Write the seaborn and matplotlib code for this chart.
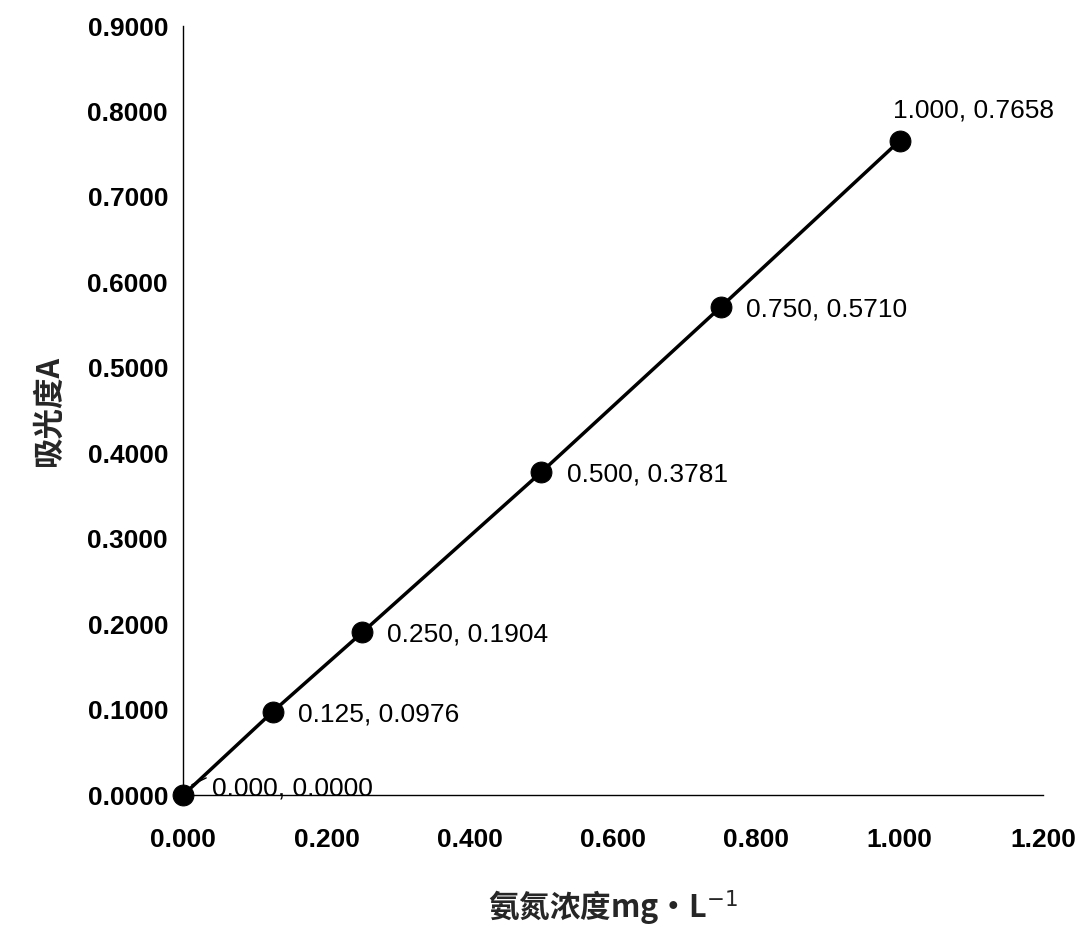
import matplotlib
matplotlib.use("Agg")
import matplotlib.pyplot as plt
import seaborn as sns
import pandas as pd

conc = [0.000, 0.125, 0.250, 0.500, 0.750, 1.000]
absb = [0.0000, 0.0976, 0.1904, 0.3781, 0.5710, 0.7658]
labels = ["0.000, 0.0000", "0.125, 0.0976", "0.250, 0.1904", "0.500, 0.3781", "0.750, 0.5710", "1.000, 0.7658"]
xticks = [0.0, 0.2, 0.4, 0.6, 0.8, 1.0, 1.2]
yticks = [i / 10 for i in range(10)]

sns.set_theme(style="white")
plt.rcParams['font.family'] = ['Liberation Sans Narrow', 'Liberation Sans', 'Noto Sans CJK SC', 'DejaVu Sans']

df = pd.DataFrame({"x": conc, "y": absb})
fig = plt.figure(figsize=(10.91, 9.47), dpi=100)
ax = fig.add_axes([0.168, 0.1605, 0.788, 0.812])
sns.lineplot(data=df, x="x", y="y", ax=ax, color="black", lw=2.5, marker="o",
             markersize=15, markerfacecolor="black", markeredgecolor="black", clip_on=False)
offsets = [(0.04, 0.008), (0.035, -0.003), (0.035, -0.003), (0.035, -0.003), (0.035, -0.003), (-0.01, 0.035)]
for x, y, t, (dx, dy) in zip(conc, absb, labels, offsets):
    ax.text(x + dx, y + dy, t, fontsize=19, va="center", ha="left", color="black",
            family=['Liberation Sans Narrow', 'Liberation Sans', 'DejaVu Sans'])
ax.plot([0.012, 0.032], [0.012, 0.02], color="black", lw=1)

ax.set_xlim(0, 1.2)
ax.set_ylim(0, 0.9)
ax.set_xticks(xticks)
ax.set_xticklabels([f"{v:.3f}" for v in xticks])
ax.set_yticks(yticks)
ax.set_yticklabels([f"{v:.4f}" for v in yticks])
for s in ["top", "right"]:
    ax.spines[s].set_visible(False)
for s in ["left", "bottom"]:
    ax.spines[s].set_color("black")
    ax.spines[s].set_linewidth(1)
ax.tick_params(axis="x", direction="in", length=5, labelsize=19, pad=24, colors="black")
ax.tick_params(axis="y", direction="out", length=5, labelsize=19, pad=6, colors="black")
for lab in ax.get_xticklabels() + ax.get_yticklabels():
    lab.set_fontweight("bold")
ax.set_xlabel("氨氮浓度mg·L$^{-1}$", fontsize=22, fontweight="bold", labelpad=26,
              family=['Noto Sans CJK SC', 'DejaVu Sans'])
ax.set_ylabel("吸光度A", fontsize=22, fontweight="bold", labelpad=16,
              family=['Noto Sans CJK SC', 'DejaVu Sans'])
fig.savefig("out.png", dpi=100)
